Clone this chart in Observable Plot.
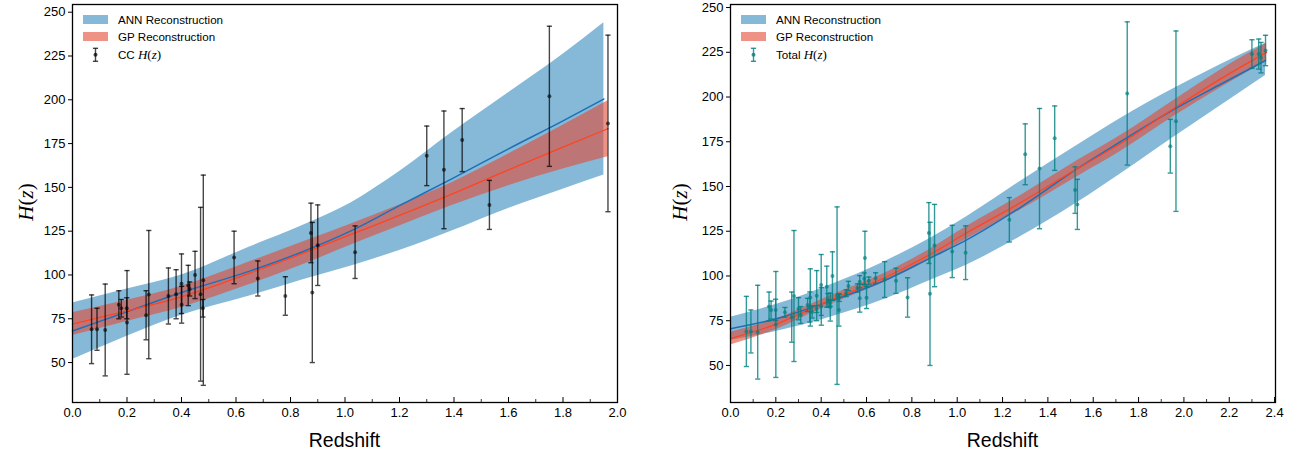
<!DOCTYPE html>
<html>
<head>
<meta charset="utf-8">
<script src="https://cdn.jsdelivr.net/npm/d3@7"></script>
<script src="https://cdn.jsdelivr.net/npm/@observablehq/plot@0.6"></script>
<style>
  body { margin: 0; background: #fff; }
  #fig { position: relative; width: 1293px; height: 453px; font-family: "Liberation Sans", Arial, sans-serif; }
  .panel { position: absolute; top: 0; }
</style>
</head>
<body>
<div id="fig"></div>
<script>
// ---------- Cosmic chronometer H(z) measurements (left panel) ----------
const ccZ   = [0.07, 0.09, 0.12, 0.17, 0.179, 0.199, 0.2, 0.27, 0.28, 0.352, 0.3802, 0.4, 0.4004, 0.4247, 0.43, 0.4497, 0.47, 0.4783, 0.48, 0.593, 0.68, 0.781, 0.875, 0.88, 0.9, 1.037, 1.3, 1.363, 1.43, 1.53, 1.75, 1.965];
const ccH   = [69, 69, 68.6, 83, 81, 81, 72.9, 77, 88.8, 88, 89, 95, 83, 94, 92, 100, 89, 81, 97, 110, 98, 88, 124, 90, 117, 113, 168, 160, 177, 140, 202, 186.5];
const ccErr = [19.6, 12, 26.2, 8, 5, 6, 29.6, 14, 36.6, 16, 14, 17, 10.5, 11.5, 4, 13.5, 49.6, 5, 60, 15, 10, 11, 17, 40, 23, 15, 17, 33.6, 18, 14, 40, 50.4];

// ---------- Combined H(z) sample (right panel) ----------
const totZ   = [0.07, 0.09, 0.12, 0.17, 0.179, 0.199, 0.2, 0.24, 0.27, 0.28, 0.3, 0.31, 0.34, 0.35, 0.352, 0.36, 0.38, 0.3802, 0.4, 0.4004, 0.4247, 0.43, 0.44, 0.44, 0.4497, 0.47, 0.4783, 0.48, 0.51, 0.52, 0.56, 0.57, 0.57, 0.59, 0.593, 0.6, 0.61, 0.64, 0.68, 0.73, 0.781, 0.875, 0.88, 0.9, 0.978, 1.037, 1.23, 1.3, 1.363, 1.43, 1.52, 1.53, 1.75, 1.94, 1.965, 2.3, 2.33, 2.34, 2.36];
const totH   = [69, 69, 68.6, 83, 81, 81, 72.9, 79.7, 77, 88.8, 81.7, 78.2, 83.8, 82.7, 88, 79.9, 81.5, 89, 95, 83, 94, 86.5, 82.6, 84.8, 100, 89, 81, 87.8, 90.4, 94.4, 93.3, 87.6, 96.8, 98.5, 110, 87.9, 97.3, 98.8, 98, 97.3, 88, 124, 90, 117, 113.7, 113, 131.4, 168, 160, 177, 148, 140, 202, 172.5, 186.5, 224, 224, 222, 226];
const totErr = [19.6, 12, 26.2, 8, 5, 6, 29.6, 2.7, 14, 36.6, 6.2, 4.7, 3.7, 8.4, 16, 3.4, 1.9, 14, 17, 10.5, 11.5, 3.7, 7.8, 1.8, 13.5, 49.6, 9, 2, 1.9, 2.6, 2.3, 7.8, 3.4, 3.2, 15, 6.1, 2.1, 3, 10, 7, 11, 17, 40, 23, 14.6, 15, 12.4, 17, 33.6, 18, 13, 14, 40, 15, 50.4, 8, 8.4, 8.5, 8.5];

// ---------- ANN reconstruction from CC data ----------
const ann1Z    = [0, 0.2, 0.4, 0.65, 0.84, 1.02, 1.2, 1.39, 1.6, 1.8, 1.95];
const ann1Mean = [68, 79, 90, 102.2, 113, 125, 139.6, 154.7, 172, 188, 200.5];
const ann1Lo   = [51.7, 65, 77, 88, 97, 105, 114, 125, 138, 149, 157];
const ann1Hi   = [84, 92, 100, 116, 128, 141, 159, 181, 204, 226, 244];

// ---------- GP reconstruction from CC data ----------
const gp1Z     = [0, 0.2, 0.4, 0.65, 0.84, 1.02, 1.2, 1.39, 1.6, 1.8, 1.965];
const gp1Mean  = [72, 79.5, 87.5, 101, 112, 123, 134, 146, 160, 173, 183.5];
const gp1Sig   = [6.5, 6, 6, 6.5, 6.5, 6, 6, 6.5, 9, 12.5, 16];

// ---------- ANN reconstruction from the combined sample ----------
const ann2Z    = [0, 0.2, 0.44, 0.68, 0.88, 1.04, 1.28, 1.53, 1.72, 1.96, 2.16, 2.36];
const ann2Mean = [70.5, 76, 86, 97.5, 110, 120, 138.4, 160, 175, 193.4, 207, 220.4];
const ann2Lo   = [64, 69, 77, 87, 97.5, 106, 122, 141, 157, 178, 195, 212];
const ann2Hi   = [77, 84, 95, 108, 121, 133, 153, 173, 188, 205, 218, 230];

// ---------- GP reconstruction from the combined sample ----------
const gp2Z     = [0, 0.2, 0.44, 0.68, 0.88, 1.04, 1.28, 1.53, 1.72, 1.96, 2.16, 2.365];
const gp2Mean  = [65, 73, 86.5, 99, 112, 124, 141, 160, 174, 194, 210, 225];
const gp2Sig   = [3.5, 3, 2.5, 2.5, 3, 3.5, 4, 4.5, 4.5, 4.5, 5, 5];

// ---------- Axis ticks ----------
const yTicks     = [50, 75, 100, 125, 150, 175, 200, 225, 250];
const x1Major    = [0, 0.2, 0.4, 0.6, 0.8, 1.0, 1.2, 1.4, 1.6, 1.8, 2.0];
const x1Minor    = [0.1, 0.3, 0.5, 0.7, 0.9, 1.1, 1.3, 1.5, 1.7, 1.9];
const x2Major    = [0, 0.2, 0.4, 0.6, 0.8, 1.0, 1.2, 1.4, 1.6, 1.8, 2.0, 2.2, 2.4];
const x2Minor    = [0.1, 0.3, 0.5, 0.7, 0.9, 1.1, 1.3, 1.5, 1.7, 1.9, 2.1, 2.3];

const legendLabels = ["ANN Reconstruction", "GP Reconstruction"];

// ---------- colours ----------
const ANN_FILL = "#348ABD", GP_FILL = "#E24A33";
const ANN_LINE = "#1f6fb8", GP_LINE = "#ff4422";

const H = 453, MT = 4, MB = 51;
const innerH = H - MT - MB;
const SANS = '"Liberation Sans", Arial, sans-serif';
const SERIF = '"Liberation Serif", "DejaVu Serif", serif';

// horizontal stroke used as the error-bar cap
const capSymbol = {
  draw(ctx, size) {
    const r = Math.sqrt(size / Math.PI);
    ctx.moveTo(-r, 0);
    ctx.lineTo(r, 0);
  }
};

// writes "H(z)" with italic variables into a text element
function mathHz(sel, size) {
  const parts = [["H", true], ["(", false], ["z", true], [")", false]];
  parts.forEach(([t, it]) => {
    const ts = sel.append("tspan").attr("font-family", SERIF).text(t);
    if (size) ts.attr("font-size", size);
    if (it) ts.attr("font-style", "italic");
  });
}

function panel(cfg) {
  const annBand = cfg.annZ.map((z, i) => ({z, lo: cfg.annLo[i], hi: cfg.annHi[i], m: cfg.annMean[i]}));
  const gpBand = cfg.gpZ.map((z, i) => ({z, m: cfg.gpMean[i], s: cfg.gpSig[i]}));
  const obs = cfg.obsZ.map((z, i) => ({z, H: cfg.obsH[i], e: cfg.obsErr[i]}));
  const oc = cfg.obsColor, oo = cfg.obsOpacity;

  const chart = Plot.plot({
    width: cfg.width,
    height: H,
    marginLeft: cfg.marginLeft,
    marginRight: cfg.marginRight,
    marginTop: MT,
    marginBottom: MB,
    x: {domain: cfg.xDomain},
    y: {domain: cfg.yDomain},
    style: {fontFamily: SANS, fontSize: "13px", color: "black", background: "white", overflow: "visible"},
    marks: [
      Plot.areaY(annBand, {x: "z", y1: "lo", y2: "hi", fill: ANN_FILL, fillOpacity: 0.6, curve: "monotone-x"}),
      Plot.areaY(gpBand, {x: "z", y1: d => d.m - d.s, y2: d => d.m + d.s, fill: GP_FILL, fillOpacity: 0.6, curve: "monotone-x"}),
      Plot.line(annBand, {x: "z", y: "m", stroke: ANN_LINE, strokeWidth: 1.5, curve: "monotone-x"}),
      Plot.line(gpBand, {x: "z", y: "m", stroke: GP_LINE, strokeWidth: 1.3, curve: "monotone-x"}),
      Plot.ruleX(obs, {x: "z", y1: d => d.H - d.e, y2: d => d.H + d.e, stroke: oc, strokeOpacity: oo, strokeWidth: 1.4}),
      Plot.dot(obs, {x: "z", y: d => d.H - d.e, symbol: capSymbol, r: 2.6, fill: "none", stroke: oc, strokeOpacity: oo, strokeWidth: 1.4}),
      Plot.dot(obs, {x: "z", y: d => d.H + d.e, symbol: capSymbol, r: 2.6, fill: "none", stroke: oc, strokeOpacity: oo, strokeWidth: 1.4}),
      Plot.dot(obs, {x: "z", y: "H", r: 2, fill: oc, fillOpacity: oo * 0.85, stroke: "none"}),
      // inward ticks on the bottom edge
      Plot.tickX(cfg.xMajor, {x: d => d, insetTop: innerH - 5, stroke: "black", strokeWidth: 1}),
      Plot.tickX(cfg.xMinor, {x: d => d, insetTop: innerH - 3, stroke: "black", strokeWidth: 0.8}),
      Plot.axisX(cfg.xMajor, {tickSize: 0, tickPadding: 5, tickFormat: d3.format(".1f"), label: null, fontSize: 13}),
      Plot.axisY(yTicks, {tickSize: 4, tickPadding: 3, label: null, fontSize: 13}),
      Plot.frame({stroke: "black", strokeWidth: 1.3})
    ]
  });

  const svg = d3.select(chart);
  const cx = cfg.marginLeft + (cfg.width - cfg.marginLeft - cfg.marginRight) / 2;
  svg.append("text")
    .attr("x", cx).attr("y", 447)
    .attr("text-anchor", "middle")
    .attr("font-family", SANS)
    .attr("font-size", 19.5)
    .attr("fill", "black")
    .text("Redshift");

  const yl = svg.append("text")
    .attr("transform", `translate(${cfg.yLabelX},202) rotate(-90)`)
    .attr("text-anchor", "middle")
    .attr("font-size", 21)
    .attr("fill", "black");
  mathHz(yl);

  // legend in the upper-left corner of the frame
  const lx = cfg.marginLeft;
  const lg = svg.append("g")
    .attr("font-family", SANS)
    .attr("font-size", 11.6)
    .attr("text-anchor", "start");
  const rows = [19.5, 36.5, 54.8];
  [ANN_FILL, GP_FILL].forEach((c, i) => lg.append("rect")
    .attr("x", lx + 11).attr("y", rows[i] - 4.5).attr("width", 25).attr("height", 9)
    .attr("fill", c).attr("fill-opacity", 0.6));
  const ex = lx + 23.5;
  lg.append("line").attr("x1", ex).attr("x2", ex).attr("y1", rows[2] - 6.5).attr("y2", rows[2] + 6.5)
    .attr("stroke", oc).attr("stroke-opacity", oo).attr("stroke-width", 1.4);
  [rows[2] - 6.5, rows[2] + 6.5].forEach(y => lg.append("line").attr("x1", ex - 2.6).attr("x2", ex + 2.6)
    .attr("y1", y).attr("y2", y).attr("stroke", oc).attr("stroke-opacity", oo).attr("stroke-width", 1.4));
  lg.append("circle").attr("cx", ex).attr("cy", rows[2]).attr("r", 2).attr("fill", oc).attr("fill-opacity", oo);
  legendLabels.forEach((t, i) => lg.append("text")
    .attr("x", lx + 46).attr("y", rows[i]).attr("dy", "0.36em")
    .attr("text-anchor", "start").attr("fill", "black").text(t));
  const t3 = lg.append("text").attr("x", lx + 46).attr("y", rows[2]).attr("dy", "0.36em")
    .attr("text-anchor", "start").attr("fill", "black");
  t3.append("tspan").text(cfg.obsName + " ");
  mathHz(t3, 13);

  const wrap = document.createElement("div");
  wrap.className = "panel";
  wrap.style.left = cfg.left + "px";
  wrap.appendChild(chart);
  return wrap;
}

const fig = document.getElementById("fig");

fig.appendChild(panel({
  left: 0, width: 645, marginLeft: 72, marginRight: 28,
  xDomain: [0, 2.0], yDomain: [27.2, 254.4],
  xMajor: x1Major, xMinor: x1Minor,
  annZ: ann1Z, annMean: ann1Mean, annLo: ann1Lo, annHi: ann1Hi,
  gpZ: gp1Z, gpMean: gp1Mean, gpSig: gp1Sig,
  obsZ: ccZ, obsH: ccH, obsErr: ccErr,
  obsColor: "#000000", obsOpacity: 0.72, obsName: "CC",
  yLabelX: 33
}));

fig.appendChild(panel({
  left: 645, width: 648, marginLeft: 85, marginRight: 18,
  xDomain: [0, 2.404], yDomain: [29.3, 251.7],
  xMajor: x2Major, xMinor: x2Minor,
  annZ: ann2Z, annMean: ann2Mean, annLo: ann2Lo, annHi: ann2Hi,
  gpZ: gp2Z, gpMean: gp2Mean, gpSig: gp2Sig,
  obsZ: totZ, obsH: totH, obsErr: totErr,
  obsColor: "#008080", obsOpacity: 0.8, obsName: "Total",
  yLabelX: 42
}));
</script>
</body>
</html>
